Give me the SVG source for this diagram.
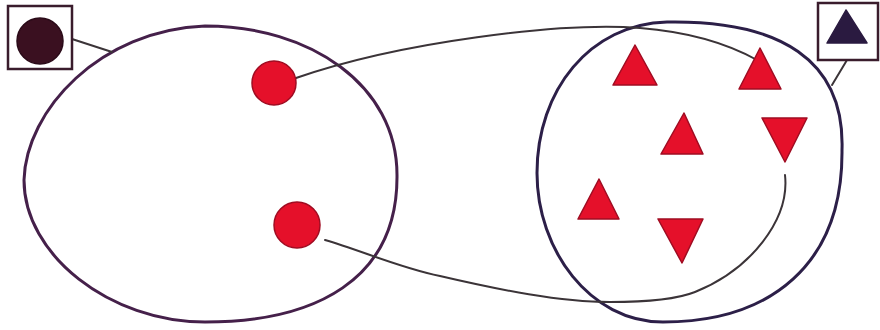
<svg xmlns="http://www.w3.org/2000/svg" width="880" height="330" viewBox="0 0 880 330">
<style>
.set{fill:none;stroke-width:3;stroke-linejoin:round}
.box{fill:#fff;stroke:#3a1c2c;stroke-width:2.5}
.red{fill:#e5102a;stroke:#a00c22;stroke-width:1.5;stroke-linejoin:round}
.link{fill:none;stroke:#3b3438;stroke-width:2;stroke-linecap:round}
</style>
<rect width="880" height="330" fill="#fff"/>
<g id="setA"><path class="set" stroke="#45204a" d="M205,26 C310,26 397,85 397,175 C398,280 315,322 205,322 C110,322 24,255 24,180 C26,110 100,30 205,26 Z"/></g>
<g id="setB"><path class="set" stroke="#2c1f48" d="M667,22 C780,20 845,60 842,150 C843,265 770,322 663,322 C590,322 537,250 537,173 C537,90 590,24 667,22 Z"/></g>
<g id="connectors">
<path class="link" d="M72,39 L112,52"/>
<path class="link" d="M847,60 L832,85"/>
<path class="link" d="M296,78 C400,42 560,22 640,28 C690,32 730,45 757,60"/>
<path class="link" d="M325,240 C360,250 400,268 440,276 C500,290 560,302 610,302 C650,302 680,298 695,292 C750,270 790,220 785,175"/>
</g>
<g id="legendCircle">
<rect class="box" x="8" y="6" width="64" height="63"/>
<circle cx="40" cy="41" r="23" fill="#3a1020" stroke="#2a0a18" stroke-width="1.5"/>
</g>
<g id="legendTriangle">
<rect class="box" x="818" y="3" width="60" height="57"/>
<polygon points="846,10 827,43 867,43" fill="#2a1a40" stroke="#2a1a40" stroke-width="1.5" stroke-linejoin="round"/>
</g>
<g id="a1"><circle class="red" cx="274" cy="83" r="22"/></g>
<g id="a2"><circle class="red" cx="297" cy="225" r="23"/></g>
<g id="b1"><polygon class="red" points="635,45 613,85 657,85"/></g>
<g id="b2"><polygon class="red" points="760,48 739,89 781,89"/></g>
<g id="b3"><polygon class="red" points="684,113 661,154 703,154"/></g>
<g id="b4"><polygon class="red" points="762,118 807,118 785,162"/></g>
<g id="b5"><polygon class="red" points="599,179 578,219 619,219"/></g>
<g id="b6"><polygon class="red" points="658,219 703,219 682,263"/></g>
</svg>
